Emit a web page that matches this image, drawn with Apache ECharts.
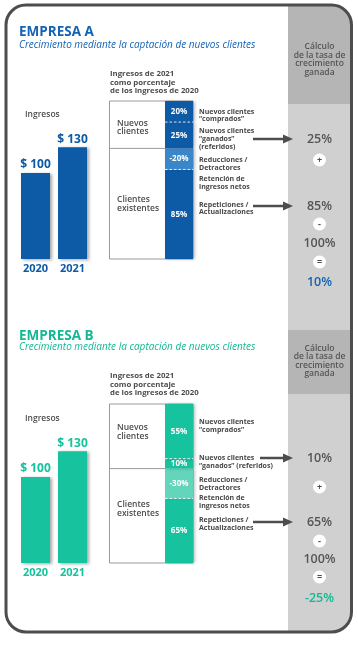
<!DOCTYPE html>
<html><head><meta charset="utf-8">
<script src="https://cdn.jsdelivr.net/npm/echarts@6/dist/echarts.min.js"></script>
<style>html,body{margin:0;padding:0;background:#fff}#c{width:358px;height:650px}</style>
</head><body><div id="c"></div>
<script>
// ---------- DATA ----------
const years = ['2020', '2021'];
const revenueA = [100, 130];
const revenueB = [100, 130];
// stacked segments, bottom to top: Repeticiones, Reducciones, Ganados, Comprados (% of 2020 revenue)
const segmentKeys = ['repeticiones', 'reducciones', 'ganados', 'comprados'];
const segmentsA = [85, -20, 25, 20];
const segmentsB = [65, -30, 10, 55];
const baseRevenue = 100;
const growthA = 10;
const growthB = -25;

// ---------- TEXTS ----------
const companyNames = ['EMPRESA A', 'EMPRESA B'];
const subtitle = 'Crecimiento mediante la captación de nuevos clientes';
const headerText = 'Ingresos de 2021\ncomo porcentaje\nde los ingresos de 2020';
const calcHeader = 'Cálculo\nde la tasa de\ncrecimiento\nganada';
const rightLabelsA = ['Nuevos clientes\n“comprados”', 'Nuevos clientes\n“ganados”\n(referidos)', 'Reducciones /\nDetractores', 'Retención de\ningresos netos', 'Repeticiones /\nActualizaciones'];
const rightLabelsB = ['Nuevos clientes\n“comprados”', 'Nuevos clientes\n“ganados” (referidos)', 'Reducciones /\nDetractores', 'Retención de\ningresos netos', 'Repeticiones /\nActualizaciones'];

// ---------- STYLE / LAYOUT ----------
const FONT = '"Open Sans", "Noto Sans", sans-serif';
const GRAY = '#4d4d4d';
const sections = [
  { name: companyNames[0], revenue: revenueA, seg: segmentsA, growth: growthA, labels: rightLabelsA,
    color: '#0d5aa7', light: '#3b86c8', text: '#1463b4', revGrid: 0, segGrid: 1,
    lay: { title: 32, sub: 45.5, ing: 115, hdr: 82.5, calcHdr: 59.5, calc: [139, 160, 206, 224, 243, 262, 282],
           arrows: [[253, 139], [253, 206]], nuevos: 127.5, exist: 204, right: [115.5, 139, 164, 183, 208.5] } },
  { name: companyNames[1], revenue: revenueB, seg: segmentsB, growth: growthB, labels: rightLabelsB,
    color: '#17c29e', light: '#62d5bb', text: '#14b893', revGrid: 2, segGrid: 3,
    lay: { title: 336, sub: 347.5, ing: 419, hdr: 384.5, calcHdr: 361, calc: [458, 487, 522, 541, 559, 577, 598],
           arrows: [[260, 458], [253, 522]], nuevos: 432, exist: 509, right: [426, 462, 484, 502, 524] } }
];

const chart = echarts.init(document.getElementById('c'), null, { renderer: 'canvas' });

const grids = [
  { left: 17, width: 74, top: 130, height: 129 },
  { left: 165, width: 28, top: 101, height: 158 },
  { left: 17, width: 74, top: 434, height: 129 },
  { left: 165, width: 28, top: 404, height: 159 }
];
const xAxes = [], yAxes = [], series = [];
sections.forEach(s => {
  xAxes.push({ type: 'category', gridIndex: s.revGrid, data: years,
    axisLine: { show: false }, axisTick: { show: false },
    axisLabel: { color: s.color, fontWeight: 'bold', fontSize: 11, fontFamily: FONT, margin: 4 } });
  yAxes.push({ type: 'value', gridIndex: s.revGrid, min: 0, max: 150, show: false, splitLine: { show: false } });
  const total = s.seg.reduce((a, v) => a + Math.abs(v), 0);
  xAxes.push({ type: 'category', gridIndex: s.segGrid, data: [''], show: false });
  yAxes.push({ type: 'value', gridIndex: s.segGrid, min: 0, max: total, show: false, splitLine: { show: false } });
});
sections.forEach((s, i) => {
  series.push({ type: 'bar', xAxisIndex: i * 2, yAxisIndex: i * 2, data: s.revenue, barWidth: 29,
    itemStyle: { color: s.color, shadowBlur: 3, shadowColor: 'rgba(0,0,0,0.35)', shadowOffsetX: 2, shadowOffsetY: 1 },
    label: { show: true, position: 'top', distance: 2, formatter: '$ {c}', color: s.color, fontWeight: 'bold', fontSize: 12, fontFamily: FONT } });
  s.seg.forEach((v, k) => {
    series.push({ type: 'bar', name: segmentKeys[k], xAxisIndex: i * 2 + 1, yAxisIndex: i * 2 + 1, stack: 'seg' + i,
      data: [Math.abs(v)], barWidth: '100%',
      itemStyle: { color: v < 0 ? s.light : s.color, shadowBlur: 3, shadowColor: 'rgba(0,0,0,0.25)', shadowOffsetX: 2 },
      label: { show: true, position: 'inside', formatter: v + '%', color: '#fff', fontWeight: 'bold', fontSize: 8, fontFamily: FONT } });
  });
});

chart.setOption({ animation: false, grid: grids, xAxis: xAxes, yAxis: yAxes, series: series });

function txt(x, y, text, size, color, o) {
  o = o || {};
  return { type: 'text', x: x, y: y, z: o.z || 50, silent: true,
    style: { text: text, fontSize: size, fontFamily: FONT, fontWeight: o.weight || 'normal', fontStyle: o.italic ? 'italic' : 'normal',
      fill: color, align: o.align || 'left', verticalAlign: o.va || 'middle', lineHeight: o.lh || Math.round(size * 1.15) } };
}

const g = [];
// frame background
g.push({ type: 'rect', z: 0, shape: { x: 6, y: 5, width: 345.5, height: 627, r: 20 }, style: { fill: '#fff' } });
// gray calculation column
g.push({ type: 'rect', z: 1, shape: { x: 288, y: 5, width: 63.5, height: 99, r: [0, 20, 0, 0] }, style: { fill: '#b5b5b5' } });
g.push({ type: 'rect', z: 1, shape: { x: 288, y: 104, width: 63.5, height: 226 }, style: { fill: '#d0d0d0' } });
g.push({ type: 'rect', z: 1, shape: { x: 288, y: 330, width: 63.5, height: 64 }, style: { fill: '#b5b5b5' } });
g.push({ type: 'rect', z: 1, shape: { x: 288, y: 394, width: 63.5, height: 238, r: [0, 0, 20, 0] }, style: { fill: '#d0d0d0' } });
// frame border
g.push({ type: 'rect', z: 90, shape: { x: 6, y: 5, width: 345.5, height: 627, r: 20 }, style: { fill: 'none', stroke: '#4d4d4d', lineWidth: 3 } });

sections.forEach((s, i) => {
  const L = s.lay;
  const px = v => chart.convertToPixel({ gridIndex: s.segGrid }, [0, v])[1];
  const gr = grids[s.segGrid];
  const total = s.seg.reduce((a, v) => a + Math.abs(v), 0);
  const yTop = px(total), yBot = px(0);
  const yExist = px(s.seg[0] + Math.abs(s.seg[1]));
  const yRep = px(s.seg[0]);
  const yGan = px(s.seg[0] + Math.abs(s.seg[1]) + s.seg[2]);
  // titles
  g.push(txt(19, L.title, s.name, 13.5, s.text, { weight: 'bold' }));
  g.push(txt(19, L.sub, subtitle, 10, s.text, { italic: true }));
  g.push(txt(25, L.ing, 'Ingresos', 8.5, GRAY, { weight: 600 }));
  g.push(txt(110, L.hdr, headerText, 7.8, GRAY, { weight: 'bold', lh: 8.6 }));
  // box
  g.push({ type: 'rect', z: 1, shape: { x: 109.5, y: yTop, width: gr.left + gr.width - 109.5, height: yBot - yTop }, style: { fill: '#fff', stroke: '#9a9a9a', lineWidth: 1 } });
  g.push({ type: 'line', z: 5, shape: { x1: 109.5, y1: yExist, x2: gr.left, y2: yExist }, style: { stroke: '#9a9a9a', lineWidth: 1 } });
  g.push(txt(117, L.nuevos, 'Nuevos\nclientes', 8.5, GRAY, { lh: 8.5, weight: 600 }));
  g.push(txt(117, L.exist, 'Clientes\nexistentes', 8.5, GRAY, { lh: 8.5, weight: 600 }));
  // dashed separators in the bar
  [yGan, yRep].forEach(y => g.push({ type: 'line', z: 60, shape: { x1: gr.left, y1: y, x2: gr.left + gr.width, y2: y },
    style: { stroke: 'rgba(255,255,255,0.85)', lineWidth: 1, lineDash: [2.5, 2] } }));
  // right labels (top to bottom)
  s.labels.forEach((t, k) => g.push(txt(199, L.right[k], t, 7, '#474747', { weight: 'bold', lh: 7.6 })));
  // arrows
  L.arrows.forEach(a => {
    g.push({ type: 'line', z: 55, shape: { x1: a[0], y1: a[1], x2: 285, y2: a[1] }, style: { stroke: '#4d4d4d', lineWidth: 2.5 } });
    g.push({ type: 'polygon', z: 55, shape: { points: [[283, a[1] - 4.5], [293, a[1]], [283, a[1] + 4.5]] }, style: { fill: '#4d4d4d' } });
  });
  // calculation column
  g.push(txt(319.5, L.calcHdr, calcHeader, 8.5, '#555', { align: 'center', lh: 8.6, weight: 600 }));
  const calcVals = [s.seg[2] + '%', s.seg[0] + '%', baseRevenue + '%', s.growth + '%'];
  const ops = ['+', '-', '='];
  const c = L.calc;
  [[c[0], 0], [c[2], 1], [c[4], 2], [c[6], 3]].forEach(([y, k]) => {
    g.push(txt(319.5, y, calcVals[k], 12.5, k === 3 ? s.text : '#555', { align: 'center', weight: 600 }));
  });
  [c[1], c[3], c[5]].forEach((y, k) => {
    g.push({ type: 'circle', z: 50, shape: { cx: 319.5, cy: y, r: 6.5 }, style: { fill: '#fff' } });
    g.push(txt(319.5, y, ops[k], 9, GRAY, { align: 'center', weight: 'bold', z: 52 }));
  });
});

chart.setOption({ graphic: g });
</script>
</body></html>
